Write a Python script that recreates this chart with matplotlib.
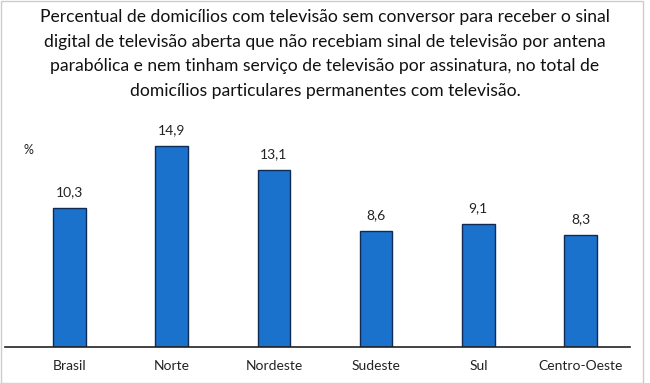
import matplotlib
matplotlib.use("Agg")
from matplotlib import pyplot as plt
from matplotlib.patches import Rectangle

regions = ["Brasil", "Norte", "Nordeste", "Sudeste", "Sul", "Centro-Oeste"]
values = [10.3, 14.9, 13.1, 8.6, 9.1, 8.3]
value_labels = ["10,3", "14,9", "13,1", "8,6", "9,1", "8,3"]

title = ("Percentual de domicílios com televisão sem conversor para receber o sinal\n"
         "digital de televisão aberta que não recebiam sinal de televisão por antena\n"
         "parabólica e nem tinham serviço de televisão por assinatura, no total de\n"
         "domicílios particulares permanentes com televisão.")

plt.rcParams['font.family'] = ['Lato', 'DejaVu Sans']

fig = plt.figure(figsize=(6.5, 3.83), dpi=100)
ax = fig.add_axes([5/650, 36/383, 625/650, 216/383])

x = range(len(regions))
ax.bar(x, values, width=0.32, color="#1B72CC", edgecolor="#0E2A55", linewidth=1.0, zorder=2)
for xi, v, lab in zip(x, values, value_labels):
    ax.text(xi, v + 0.75, lab, ha="center", va="bottom", fontsize=10, color="#222222")

ax.set_xlim(-0.631, 5.484)
ax.set_ylim(0, 16)
ax.set_xticks(list(x))
ax.set_xticklabels(regions, fontsize=10, color="#222222")
ax.tick_params(axis="x", length=0, pad=9)
ax.set_yticks([])
for side in ["top", "right", "left"]:
    ax.spines[side].set_visible(False)
ax.spines["bottom"].set_linewidth(1.2)
ax.spines["bottom"].set_color("#222222")

fig.text(0.5, 1 - 54/383, title, ha="center", va="center", fontsize=12.6,
         linespacing=1.66, color="#111111")
fig.text(28/650, 1 - 150/383, "%", ha="center", va="center", fontsize=9, color="#222222")

fig.patches.append(Rectangle((0.5/650, 0.5/383), 1 - 8/650, 1 - 1/383, transform=fig.transFigure,
                             fill=False, edgecolor="#cccccc", linewidth=1))

fig.savefig("out.png", dpi=100)
